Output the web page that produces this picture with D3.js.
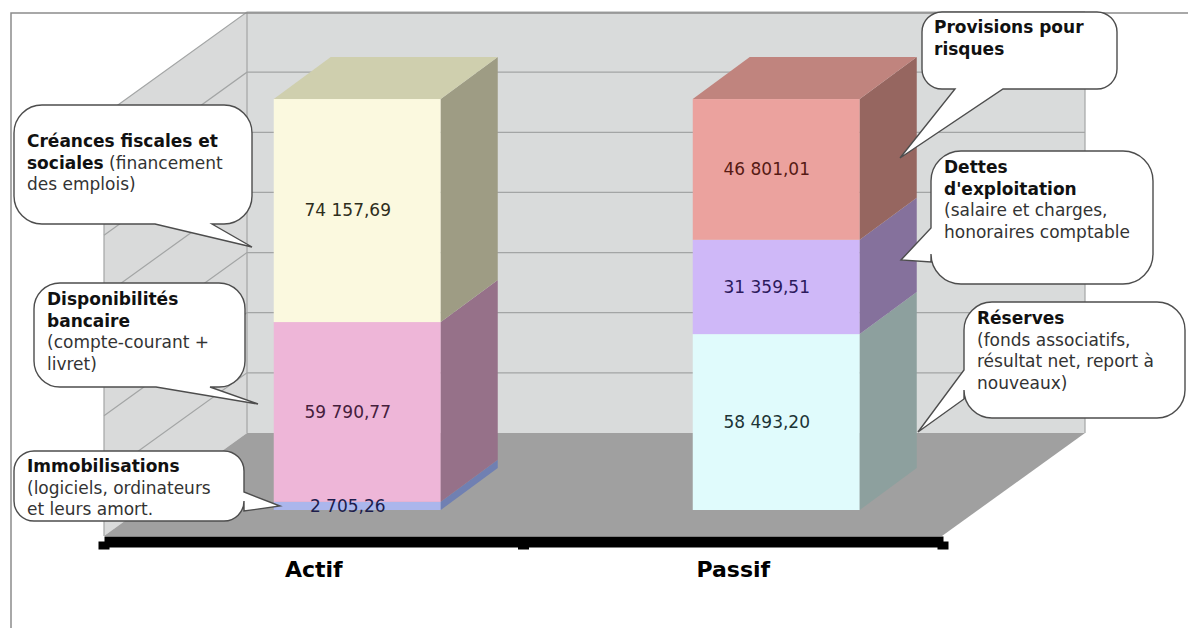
<!DOCTYPE html>
<html>
<head>
<meta charset="utf-8">
<script src="https://cdn.jsdelivr.net/npm/d3@7"></script>
<style>
  html, body { margin: 0; padding: 0; background: #fff; }
  svg { display: block; font-family: "DejaVu Sans", Verdana, sans-serif; }
</style>
</head>
<body>
<svg id="chart" width="1188" height="628"></svg>
<script>
// data, bottom segment first
const categories = ["Actif", "Passif"];
const actifValues = [2705.26, 59790.77, 74157.69];
const passifValues = [58493.20, 31359.51, 46801.01];
const gridTicks = [0, 20000, 40000, 60000, 80000, 100000, 120000, 140000];

// callout texts, each line is [bold part, regular part]
const creancesLines = [["Créances fiscales et", ""], ["sociales", " (financement"], ["", "des emplois)"]];
const disponibilitesLines = [["Disponibilités", ""], ["bancaire", ""], ["", "(compte-courant +"], ["", "livret)"]];
const immobilisationsLines = [["Immobilisations", ""], ["", "(logiciels, ordinateurs"], ["", "et leurs amort."]];
const provisionsLines = [["Provisions pour", ""], ["risques", ""]];
const dettesLines = [["Dettes", ""], ["d'exploitation", ""], ["", "(salaire et charges,"], ["", "honoraires comptable"]];
const reservesLines = [["Réserves", ""], ["", "(fonds associatifs,"], ["", "résultat net, report à"], ["", "nouveaux)"]];

// colours per segment
const actifColors = [
  {front: "#abb6ec", side: "#7080b2", text: "#1d1d4d"},
  {front: "#eeb6d8", side: "#967189", text: "#45203c"},
  {front: "#fbf9df", side: "#9e9c84", text: "#2e2e1c", top: "#cfcfae"}
];
const passifColors = [
  {front: "#e0fbfc", side: "#8da09e", text: "#1c3436"},
  {front: "#cfb8f8", side: "#85719c", text: "#2c1a5c"},
  {front: "#eba29e", side: "#966660", text: "#561a14", top: "#c0847e"}
];

const svg = d3.select("#chart");

// back wall scale and band scale along the front of the floor
const y = d3.scaleLinear().domain([0, 140000]).range([433, 12]);
const x = d3.scaleBand().domain(categories).range([104, 943]);

const wallLeft = 247, wallRight = 1085;
const depthX = -143, depthY = 103;   // back wall to front of floor
const barWidth = 167, barFront = 77, barDepthX = 57, barDepthY = 42;
const barShift = {Actif: 43.5, Passif: 43};

const poly = pts => pts.map(p => p.join(",")).join(" ");

// walls and floor
svg.append("polygon")
  .attr("points", poly([[wallLeft, y(140000)], [wallLeft, y(0)], [wallLeft + depthX, y(0) + depthY], [wallLeft + depthX, y(140000) + depthY]]))
  .attr("fill", "#d9dada");
svg.append("rect")
  .attr("x", wallLeft).attr("y", y(140000))
  .attr("width", wallRight - wallLeft).attr("height", y(0) - y(140000))
  .attr("fill", "#d9dbdb");
svg.append("polygon")
  .attr("points", poly([[wallLeft, y(0)], [wallRight, y(0)], [wallRight + depthX, y(0) + depthY], [wallLeft + depthX, y(0) + depthY]]))
  .attr("fill", "#a0a0a0");

// gridlines, back wall then side wall
const grid = svg.append("g").attr("stroke", "#a3a5a5").attr("stroke-width", 1.2).attr("fill", "none");
gridTicks.slice(1).forEach(function (t) {
  grid.append("polyline")
    .attr("points", poly([[wallRight, y(t)], [wallLeft, y(t)], [wallLeft + depthX, y(t) + depthY]]));
});
grid.append("line").attr("x1", wallLeft).attr("x2", wallLeft).attr("y1", y(140000)).attr("y2", y(0));
grid.append("line").attr("x1", wallRight).attr("x2", wallRight).attr("y1", y(140000)).attr("y2", y(0));
grid.append("line").attr("x1", wallLeft + depthX).attr("x2", wallLeft + depthX)
  .attr("y1", y(140000) + depthY).attr("y2", y(0) + depthY);

// stacked 3d bars
const fmt = d3.formatLocale({decimal: ",", thousands: " ", grouping: [3], currency: ["", ""]}).format(",.2f");

function drawBar(cat, values, colors) {
  const left = x(cat) + x.bandwidth() / 2 + barShift[cat] - barWidth / 2;
  const right = left + barWidth;
  const tops = Array.from(d3.cumsum(values));
  const g = svg.append("g");
  const segY = i => [y(i === 0 ? 0 : tops[i - 1]) + barFront, y(tops[i]) + barFront];
  values.forEach(function (v, i) {
    const [y0, y1] = segY(i);
    g.append("rect")
      .attr("x", left).attr("y", y1)
      .attr("width", barWidth).attr("height", y0 - y1)
      .attr("fill", colors[i].front);
    g.append("polygon")
      .attr("points", poly([[right, y0], [right, y1], [right + barDepthX, y1 - barDepthY], [right + barDepthX, y0 - barDepthY]]))
      .attr("fill", colors[i].side);
    if (colors[i].top) {
      g.append("polygon")
        .attr("points", poly([[left, y1], [right, y1], [right + barDepthX, y1 - barDepthY], [left + barDepthX, y1 - barDepthY]]))
        .attr("fill", colors[i].top);
    }
  });
  // labels last, the thin segment's label is taller than the segment
  values.forEach(function (v, i) {
    const [y0, y1] = segY(i);
    g.append("text")
      .attr("x", left + barWidth / 2 - 9.5)
      .attr("y", (y0 + y1) / 2)
      .attr("dy", "0.33em")
      .attr("text-anchor", "middle")
      .attr("font-size", 17)
      .attr("fill", colors[i].text)
      .text(fmt(v));
  });
}
drawBar("Actif", actifValues, actifColors);
drawBar("Passif", passifValues, passifColors);

// x axis, thick black line with square ticks on the band edges
const axis = svg.append("g")
  .attr("transform", "translate(0,541.5)")
  .call(d3.axisBottom(x).tickSize(0).tickPadding(20));
axis.select(".domain").attr("stroke", "#000").attr("stroke-width", 11);
axis.selectAll("text")
  .attr("font-family", "\"DejaVu Sans\", Verdana, sans-serif")
  .attr("font-size", 22).attr("font-weight", "bold").attr("fill", "#000");
[104, x("Passif"), 943].forEach(function (t) {
  axis.append("rect").attr("x", t - 5.5).attr("y", 0).attr("width", 11).attr("height", 8).attr("fill", "#000");
});

// frame of the chart area
svg.append("polyline")
  .attr("points", poly([[11, 628], [11, 13], [1188, 13]]))
  .attr("fill", "none").attr("stroke", "#8c8c8c").attr("stroke-width", 1.5);

// callouts: box, corner radius, tail tip and where the tail leaves the box
function callout(c) {
  const p = d3.path();
  const l = c.x0, r = c.x1, t = c.y0, b = c.y1, k = c.r;
  p.moveTo(l + k, t);
  p.lineTo(r - k, t);
  p.arcTo(r, t, r, t + k, k);
  if (c.side === "right") {
    p.lineTo(r, c.from);
    p.lineTo(c.tip[0], c.tip[1]);
    p.lineTo(r, c.to);
  }
  p.lineTo(r, b - k);
  p.arcTo(r, b, r - k, b, k);
  if (c.side === "bottom") {
    p.lineTo(c.to, b);
    p.lineTo(c.tip[0], c.tip[1]);
    p.lineTo(c.from, b);
  }
  p.lineTo(l + k, b);
  p.arcTo(l, b, l, b - k, k);
  if (c.side === "left") {
    p.lineTo(l, c.to);
    p.lineTo(c.tip[0], c.tip[1]);
    p.lineTo(l, c.from);
  }
  p.lineTo(l, t + k);
  p.arcTo(l, t, l + k, t, k);
  p.closePath();

  const g = svg.append("g");
  g.append("path").attr("d", p.toString()).attr("fill", "#fff").attr("stroke", "#4d4d4d").attr("stroke-width", 1.4);
  c.lines.forEach(function (line, i) {
    const txt = g.append("text")
      .attr("x", c.tx)
      .attr("y", c.ty + i * 21.6)
      .attr("font-size", 17);
    if (line[0]) txt.append("tspan").attr("font-weight", "bold").attr("fill", "#111").text(line[0]);
    if (line[1]) txt.append("tspan").attr("fill", "#333").attr("xml:space", "preserve").text(line[1]);
  });
}

callout({lines: creancesLines, x0: 14, x1: 252, y0: 105, y1: 224, r: 28, side: "bottom", tip: [252, 247], from: 155, to: 212, tx: 27, ty: 147});
callout({lines: disponibilitesLines, x0: 34, x1: 245, y0: 283, y1: 387, r: 26, side: "bottom", tip: [258, 404], from: 156, to: 210, tx: 47, ty: 305});
callout({lines: immobilisationsLines, x0: 14, x1: 244, y0: 451, y1: 521, r: 20, side: "right", tip: [280, 506], from: 492, to: 511, tx: 27, ty: 472});
callout({lines: provisionsLines, x0: 922, x1: 1117, y0: 12, y1: 89, r: 20, side: "bottom", tip: [900, 158], from: 955, to: 1003, tx: 934, ty: 33});
callout({lines: dettesLines, x0: 931, x1: 1153, y0: 151, y1: 284, r: 30, side: "left", tip: [901, 260], from: 228, to: 262, tx: 944, ty: 173});
callout({lines: reservesLines, x0: 964, x1: 1185, y0: 302, y1: 418, r: 28, side: "left", tip: [918, 432], from: 370, to: 399, tx: 977, ty: 324});
</script>
</body>
</html>
